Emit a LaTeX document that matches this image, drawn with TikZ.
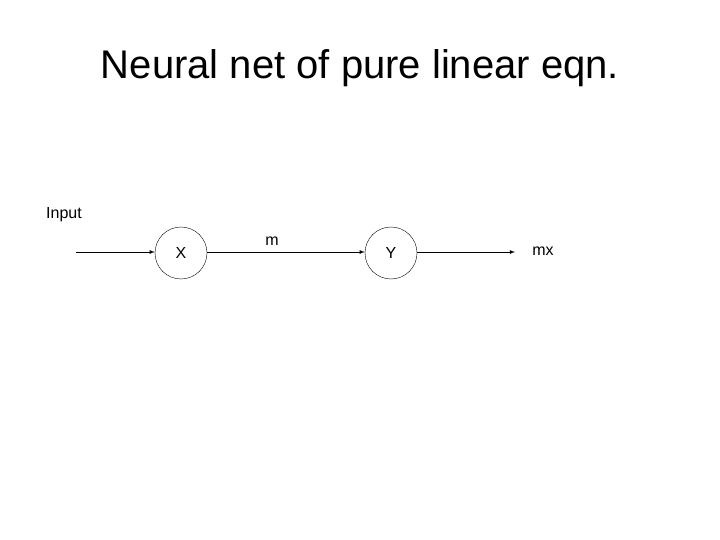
\documentclass[tikz,border=0pt]{standalone}
\usepackage{fontspec}
\setmainfont{Liberation Sans}
\begin{document}
\begin{tikzpicture}[x=1pt,y=-1pt,
  neuron/.style={draw,circle,minimum size=52pt,inner sep=0pt,font=\fontsize{16}{18}\selectfont},
  lbl/.style={font=\fontsize{16}{18}\selectfont,inner sep=0pt},
  conn/.style={-latex,line width=0.8pt}]
\useasboundingbox[fill=white] (0,0) rectangle (720,540);
\node[font=\fontsize{40}{46}\selectfont] (title) at (360,68) {Neural net of pure linear eqn.};
\node[lbl] (input) at (64,215) {Input};
\coordinate (start) at (76,252);
\node[neuron] (x) at (181,253) {X};
\node[neuron] (y) at (391,253) {Y};
\coordinate (end) at (515,252);
\node[lbl] (m) at (272,241) {m};
\node[lbl] (mx) at (543,251) {mx};
\draw[conn] (start) -- (x.west |- start);
\draw[conn] (x.east |- start) -- (y.west |- start);
\draw[conn] (y.east |- start) -- (end);
\end{tikzpicture}
\end{document}
